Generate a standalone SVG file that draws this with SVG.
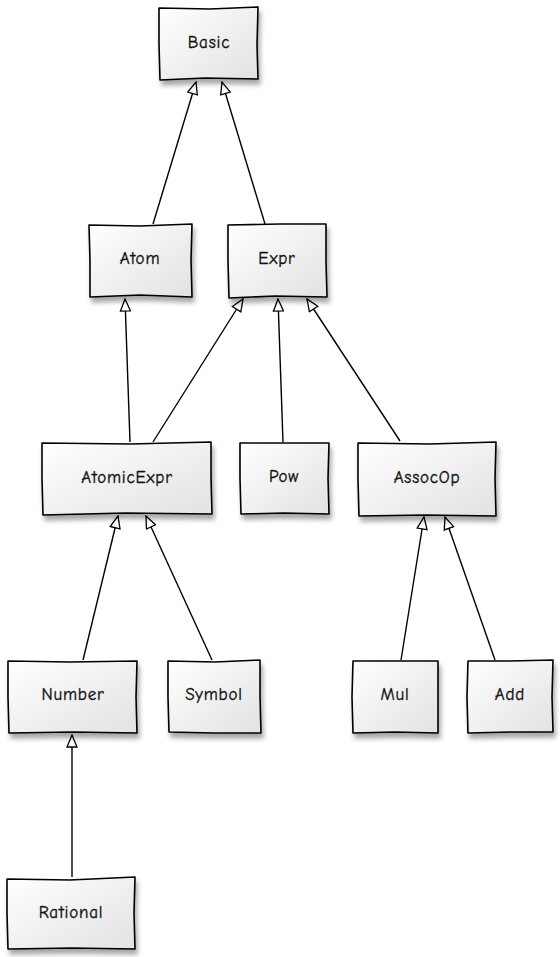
<svg xmlns="http://www.w3.org/2000/svg" width="560" height="957" viewBox="0 0 560 957">
<style>
.box{fill:url(#g);stroke:#000;stroke-width:1.6;stroke-linejoin:round;filter:url(#sh)}
.lbl{font-family:"Comic Neue","Liberation Sans","DejaVu Sans",sans-serif;font-size:17px;letter-spacing:0.8px;fill:#111;stroke:#111;stroke-width:0.35;text-anchor:middle;dominant-baseline:central}
.edge{fill:none;stroke:#000;stroke-width:1.4}
</style>
<defs>
<linearGradient id="g" x1="0" y1="0" x2="1" y2="1">
<stop offset="0" stop-color="#ffffff"/>
<stop offset="1" stop-color="#e2e2e2"/>
</linearGradient>
<filter id="sh" x="-20%" y="-20%" width="150%" height="160%">
<feGaussianBlur in="SourceAlpha" stdDeviation="2.5"/>
<feOffset dx="2" dy="5" result="b"/>
<feComponentTransfer><feFuncA type="linear" slope="0.35"/></feComponentTransfer>
<feMerge><feMergeNode/><feMergeNode in="SourceGraphic"/></feMerge>
</filter>
<marker id="tri" viewBox="0 0 14 12" refX="13" refY="6" markerWidth="14" markerHeight="12" markerUnits="userSpaceOnUse" orient="auto">
<path d="M1,1 L13,6 L1,11 Z" fill="#fff" stroke="#000" stroke-width="1.3"/>
</marker>
</defs>
<g id="connectors">
<path class="edge" d="M153,224 L196,82" marker-end="url(#tri)"/>
<path class="edge" d="M265,224 L222,82" marker-end="url(#tri)"/>
<path class="edge" d="M130,442 L125,299" marker-end="url(#tri)"/>
<path class="edge" d="M153,442 L243,299" marker-end="url(#tri)"/>
<path class="edge" d="M283,442 L278,299" marker-end="url(#tri)"/>
<path class="edge" d="M400,441 L307,299" marker-end="url(#tri)"/>
<path class="edge" d="M83,660 L118,516" marker-end="url(#tri)"/>
<path class="edge" d="M212,660 L146,516" marker-end="url(#tri)"/>
<path class="edge" d="M401,660 L424,517" marker-end="url(#tri)"/>
<path class="edge" d="M495,660 L445,517" marker-end="url(#tri)"/>
<path class="edge" d="M72,877 L72,735" marker-end="url(#tri)"/>
</g>
<g id="Basic">
<path class="box" d="M159,8 L210,9 L258,7 L257,45 L258,79 L205,78 L160,80 L159,44 Z"/>
<text class="lbl" x="209" y="42">Basic</text>
</g>
<g id="Atom">
<path class="box" d="M89,225 L140,226 L192,224 L191,260 L192,297 L140,295 L90,297 L90,260 Z"/>
<text class="lbl" x="140" y="258">Atom</text>
</g>
<g id="Expr">
<path class="box" d="M228,225 L280,224 L326,224 L326,262 L327,297 L275,296 L229,298 L228,260 Z"/>
<text class="lbl" x="277" y="258">Expr</text>
</g>
<g id="AtomicExpr">
<path class="box" d="M42,443 L130,444 L211,442 L211,478 L212,514 L125,513 L43,515 L42,478 Z"/>
<text class="lbl" x="127" y="477">AtomicExpr</text>
</g>
<g id="Pow">
<path class="box" d="M240,443 L285,443 L329,443 L328,478 L329,514 L284,513 L241,514 L240,478 Z"/>
<text class="lbl" x="284" y="476">Pow</text>
</g>
<g id="AssocOp">
<path class="box" d="M358,443 L430,444 L496,442 L495,478 L496,516 L425,515 L359,516 L358,479 Z"/>
<text class="lbl" x="427" y="477">AssocOp</text>
</g>
<g id="Number">
<path class="box" d="M8,661 L70,662 L137,661 L136,697 L137,733 L72,732 L9,733 L8,697 Z"/>
<text class="lbl" x="73" y="694">Number</text>
</g>
<g id="Symbol">
<path class="box" d="M168,661 L215,662 L260,660 L260,697 L261,733 L214,733 L169,732 L168,697 Z"/>
<text class="lbl" x="214" y="694">Symbol</text>
</g>
<g id="Mul">
<path class="box" d="M353,661 L395,661 L438,661 L438,697 L438,733 L395,732 L353,733 L352,697 Z"/>
<text class="lbl" x="395" y="694">Mul</text>
</g>
<g id="Add">
<path class="box" d="M468,661 L510,661 L553,660 L552,697 L553,732 L510,732 L468,733 L467,697 Z"/>
<text class="lbl" x="510" y="694">Add</text>
</g>
<g id="Rational">
<path class="box" d="M7,879 L70,880 L135,877 L134,913 L135,949 L72,948 L8,949 L7,913 Z"/>
<text class="lbl" x="71" y="912">Rational</text>
</g>
</svg>
